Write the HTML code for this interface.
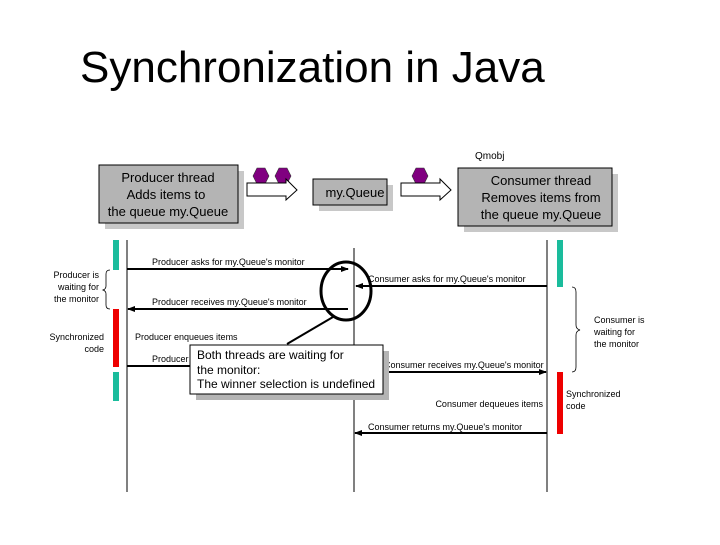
<!DOCTYPE html>
<html><head><style>
body{margin:0;background:#fff;}
svg text{font-family:"Liberation Sans",Arial,sans-serif;}
</style></head><body>
<svg width="720" height="540" viewBox="0 0 720 540" xmlns="http://www.w3.org/2000/svg">
<defs>
<marker id="ah" markerWidth="8" markerHeight="8" refX="7" refY="4" orient="auto" markerUnits="userSpaceOnUse"><path d="M0,1 L8,4 L0,7 z" fill="#000"/></marker>
</defs>
<text x="80" y="82" font-size="44">Synchronization in Java</text>
<text x="475" y="159" font-size="10">Qmobj</text>
<rect x="105" y="171" width="139" height="58" fill="#c8c8c8"/>
<rect x="99" y="165" width="139" height="58" fill="#b4b4b4" stroke="#000"/>
<text x="168" y="182" font-size="13" text-anchor="middle">Producer thread</text>
<text x="166" y="199" font-size="13" text-anchor="middle">Adds items to</text>
<text x="168" y="216" font-size="13" text-anchor="middle">the queue my.Queue</text>
<rect x="319" y="185" width="74" height="26" fill="#c8c8c8"/>
<rect x="313" y="179" width="74" height="26" fill="#b4b4b4" stroke="#000"/>
<text x="355" y="197" font-size="13" text-anchor="middle">my.Queue</text>
<rect x="464" y="174" width="154" height="58" fill="#c8c8c8"/>
<rect x="458" y="168" width="154" height="58" fill="#b4b4b4" stroke="#000"/>
<text x="541" y="185" font-size="13" text-anchor="middle">Consumer thread</text>
<text x="541" y="202" font-size="13" text-anchor="middle">Removes items from</text>
<text x="541" y="219" font-size="13" text-anchor="middle">the queue my.Queue</text>
<g fill="#800080" stroke="#333" stroke-width="0.6">
<polygon points="257,168 265,168 269,176 265,184 257,184 253,176"/>
<polygon points="279,168 287,168 291,176 287,184 279,184 275,176"/>
<polygon points="416,168 424,168 428,176 424,184 416,184 412,176"/>
</g>
<polygon points="247,183 286,183 286,179 297,190 286,200 286,196 247,196" fill="#fff" stroke="#000"/>
<polygon points="401,183 440,183 440,179 451,190 440,200 440,196 401,196" fill="#fff" stroke="#000"/>
<g stroke="#000" stroke-width="1">
<line x1="127" y1="240" x2="127" y2="492"/>
<line x1="354" y1="248" x2="354" y2="492"/>
<line x1="547" y1="240" x2="547" y2="492"/>
</g>
<rect x="113" y="240" width="6" height="30" fill="#1abc9c"/>
<rect x="113" y="309" width="6" height="58" fill="#e00"/>
<rect x="113" y="372" width="6" height="29" fill="#1abc9c"/>
<rect x="557" y="240" width="6" height="47" fill="#1abc9c"/>
<rect x="557" y="372" width="6" height="62" fill="#e00"/>
<g stroke="#000" stroke-width="2" marker-end="url(#ah)">
<line x1="127" y1="269" x2="348" y2="269"/>
<line x1="547" y1="286" x2="356" y2="286"/>
<line x1="348" y1="309" x2="128" y2="309"/>
<line x1="388" y1="372" x2="546" y2="372"/>
<line x1="547" y1="433" x2="355" y2="433"/>
</g>
<line x1="127" y1="366" x2="195" y2="366" stroke="#000" stroke-width="2"/>
<g font-size="9">
<text x="152" y="265">Producer asks for my.Queue's monitor</text>
<text x="368" y="282">Consumer asks for my.Queue's monitor</text>
<text x="152" y="305">Producer receives my.Queue's monitor</text>
<text x="135" y="340">Producer enqueues items</text>
<text x="152" y="362">Producer</text>
<text x="384" y="368">Consumer receives my.Queue's monitor</text>
<text x="543" y="407" text-anchor="end">Consumer dequeues items</text>
<text x="368" y="430">Consumer returns my.Queue's monitor</text>
<text x="99" y="278" text-anchor="end">Producer is</text>
<text x="99" y="290" text-anchor="end">waiting for</text>
<text x="99" y="302" text-anchor="end">the monitor</text>
<text x="104" y="340" text-anchor="end">Synchronized</text>
<text x="104" y="352" text-anchor="end">code</text>
<text x="594" y="323">Consumer is</text>
<text x="594" y="335">waiting for</text>
<text x="594" y="347">the monitor</text>
<text x="566" y="397">Synchronized</text>
<text x="566" y="409">code</text>
</g>
<path d="M110,270 Q106,270 106,274 L106,286 Q106,289 103,290 Q106,291 106,294 L106,305 Q106,309 110,309" fill="none" stroke="#000" stroke-width="0.8"/>
<path d="M572,287 Q576,287 576,292 L576,325 Q576,329 580,330 Q576,331 576,335 L576,367 Q576,372 572,372" fill="none" stroke="#000" stroke-width="0.8"/>
<ellipse cx="346" cy="291" rx="25" ry="29" fill="none" stroke="#000" stroke-width="3"/>
<line x1="287" y1="344" x2="333" y2="317" stroke="#000" stroke-width="2"/>
<rect x="196" y="351" width="193" height="49" fill="#b4b4b4"/>
<rect x="190" y="345" width="193" height="49" fill="#fff" stroke="#000"/>
<g font-size="12">
<text x="197" y="359">Both threads are waiting for</text>
<text x="197" y="374">the monitor:</text>
<text x="197" y="388">The winner selection is undefined</text>
</g>
</svg>
</body></html>
